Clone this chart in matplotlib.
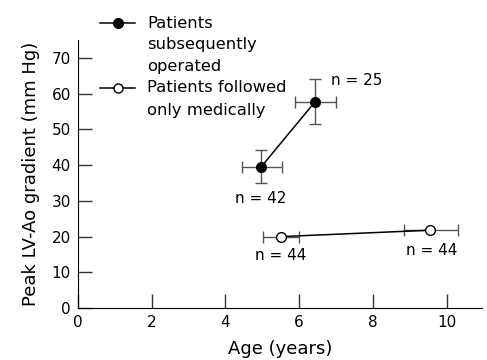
import matplotlib
matplotlib.use("Agg")
import matplotlib.pyplot as plt
from matplotlib.lines import Line2D

plt.rcParams["font.family"] = ["DejaVu Sans"]

# ── data ─────────────────────────────────────────────────────────────────────
operated_age = [4.97, 6.43]
operated_grad = [39.5, 57.7]
operated_age_err = [[0.53, 0.55], [0.57, 0.57]]   # lower, upper
operated_grad_err = [[4.5, 6.2], [4.8, 6.4]]
operated_n = ["n = 42", "n = 25"]

medical_age = [5.5, 9.55]
medical_grad = [20.0, 21.8]
medical_age_err = [[0.47, 0.7], [0.5, 0.75]]
medical_n = ["n = 44", "n = 44"]

n_label_pos = [(4.97, 30.8), (7.55, 63.6), (5.5, 14.6), (9.6, 16.2)]

fig = plt.figure(figsize=(4.87, 3.6), dpi=100)
ax = fig.add_axes([0.160, 0.144, 0.829, 0.745])

err_color = "#555555"
ax.errorbar(operated_age, operated_grad, xerr=operated_age_err, yerr=operated_grad_err,
            fmt="none", ecolor=err_color, elinewidth=1.0, capsize=4.5, capthick=1.0, zorder=2)
ax.plot(operated_age, operated_grad, "-", color="black", lw=1.1, zorder=3)
ax.plot(operated_age, operated_grad, "o", color="black", ms=7, zorder=4)

ax.errorbar(medical_age, medical_grad, xerr=medical_age_err,
            fmt="none", ecolor=err_color, elinewidth=1.0, capsize=4.5, capthick=1.0, zorder=2)
ax.plot(medical_age, medical_grad, "-", color="black", lw=1.1, zorder=3)
ax.plot(medical_age, medical_grad, "o", mfc="white", mec="black", mew=1.0, ms=7, zorder=4)

for lab, (x, y) in zip(operated_n + medical_n, n_label_pos):
    ax.text(x, y, lab, ha="center", va="center", fontsize=11)

ax.set_xlim(0, 10.95)
ax.set_ylim(0, 75)
ax.set_xticks([0, 2, 4, 6, 8, 10])
ax.set_yticks([0, 10, 20, 30, 40, 50, 60, 70])
ax.tick_params(direction="in", length=10, width=1, labelsize=11, color="#333333", pad=5)
ax.spines["top"].set_visible(False)
ax.spines["right"].set_visible(False)
ax.set_xlabel("Age (years)", fontsize=13, labelpad=7)
ax.set_ylabel("Peak LV-Ao gradient (mm Hg)", fontsize=13, labelpad=8)

# ── legend drawn by hand so the key sits on the first text line ─────────────
W, H = 487, 360
def fx(px):
    return px / W
def fy(py):
    return 1 - py / H

for row_y, filled in [(23, True), (88, False)]:
    fig.add_artist(Line2D([fx(100), fx(135)], [fy(row_y), fy(row_y)], color="black", lw=1.1,
                          transform=fig.transFigure))
    fig.add_artist(Line2D([fx(117.5)], [fy(row_y)], marker="o", ms=7 if filled else 6.5,
                          mfc="black" if filled else "white", mec="black", mew=1.0,
                          transform=fig.transFigure))

legend_lines = ["Patients", "subsequently", "operated", "Patients followed", "only medically"]
legend_line_y = [23, 45, 66.5, 88, 110]
for txt, py in zip(legend_lines, legend_line_y):
    fig.text(fx(147), fy(py), txt, ha="left", va="center", fontsize=11.8)

fig.savefig("out.png", dpi=100)
